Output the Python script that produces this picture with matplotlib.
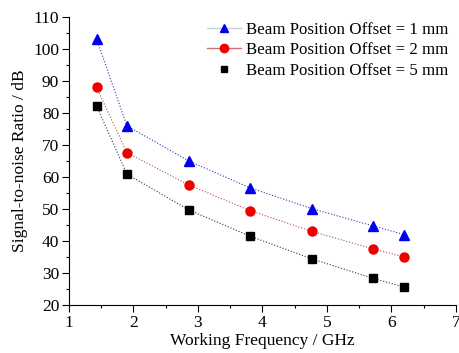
import matplotlib.pyplot as plt
from matplotlib.lines import Line2D
from matplotlib.ticker import MultipleLocator

plt.rcParams['font.family'] = ['Liberation Serif', 'DejaVu Serif']

freq = [1.43, 1.9, 2.86, 3.81, 4.77, 5.72, 6.2]
snr_1mm = [103.1, 76.0, 65.0, 56.6, 50.1, 44.7, 42.0]
snr_2mm = [88.0, 67.6, 57.5, 49.5, 43.0, 37.5, 35.0]
snr_5mm = [82.2, 60.9, 49.7, 41.5, 34.4, 28.3, 25.6]
labels = ['Beam Position Offset = 1 mm',
          'Beam Position Offset = 2 mm',
          'Beam Position Offset = 5 mm']

fig = plt.figure(figsize=(4.59, 3.53), dpi=100)
ax = fig.add_axes([0.150, 0.136, 0.843, 0.816])

ax.plot(freq, snr_1mm, ls=':', lw=0.8, color='#3a3a9a', marker='^', ms=6.5, mfc='#0000ee', mec='#0000ee')
ax.plot(freq, snr_2mm, ls=':', lw=0.8, color='#b05050', marker='o', ms=6.5, mfc='#ee0000', mec='#ee0000')
ax.plot(freq, snr_5mm, ls=':', lw=0.8, color='#333333', marker='s', ms=5.5, mfc='black', mec='black')

# legend handles: the last one shows the marker only
handles = [
    Line2D([], [], color='#c8cce0', lw=1.0, marker='^', ms=6, mfc='#0000ee', mec='#0000ee'),
    Line2D([], [], color='#d07070', lw=1.0, marker='o', ms=6, mfc='#ee0000', mec='#ee0000'),
    Line2D([], [], ls='none', marker='s', ms=5, mfc='black', mec='black'),
]
ax.legend(handles, labels, loc='upper right', bbox_to_anchor=(1.02, 1.035), frameon=False,
          fontsize=12.2, handlelength=2.0, handletextpad=0.3, labelspacing=0.25)

ax.set_xlim(1, 7)
ax.set_ylim(20, 110)
ax.xaxis.set_major_locator(MultipleLocator(1))
ax.xaxis.set_minor_locator(MultipleLocator(0.5))
ax.yaxis.set_major_locator(MultipleLocator(10))
ax.yaxis.set_minor_locator(MultipleLocator(5))
ax.tick_params(which='both', direction='out', labelsize=12.5, width=0.8)
ax.tick_params(which='major', length=5, pad=2)
ax.tick_params(which='minor', length=2.5)

for side in ['top', 'right']:
    ax.spines[side].set_visible(False)

ax.set_xlabel('Working Frequency / GHz', fontsize=12.5, labelpad=2)
ax.set_ylabel('Signal-to-noise Ratio / dB', fontsize=12.5, labelpad=4)

fig.savefig('out.png', dpi=100)
